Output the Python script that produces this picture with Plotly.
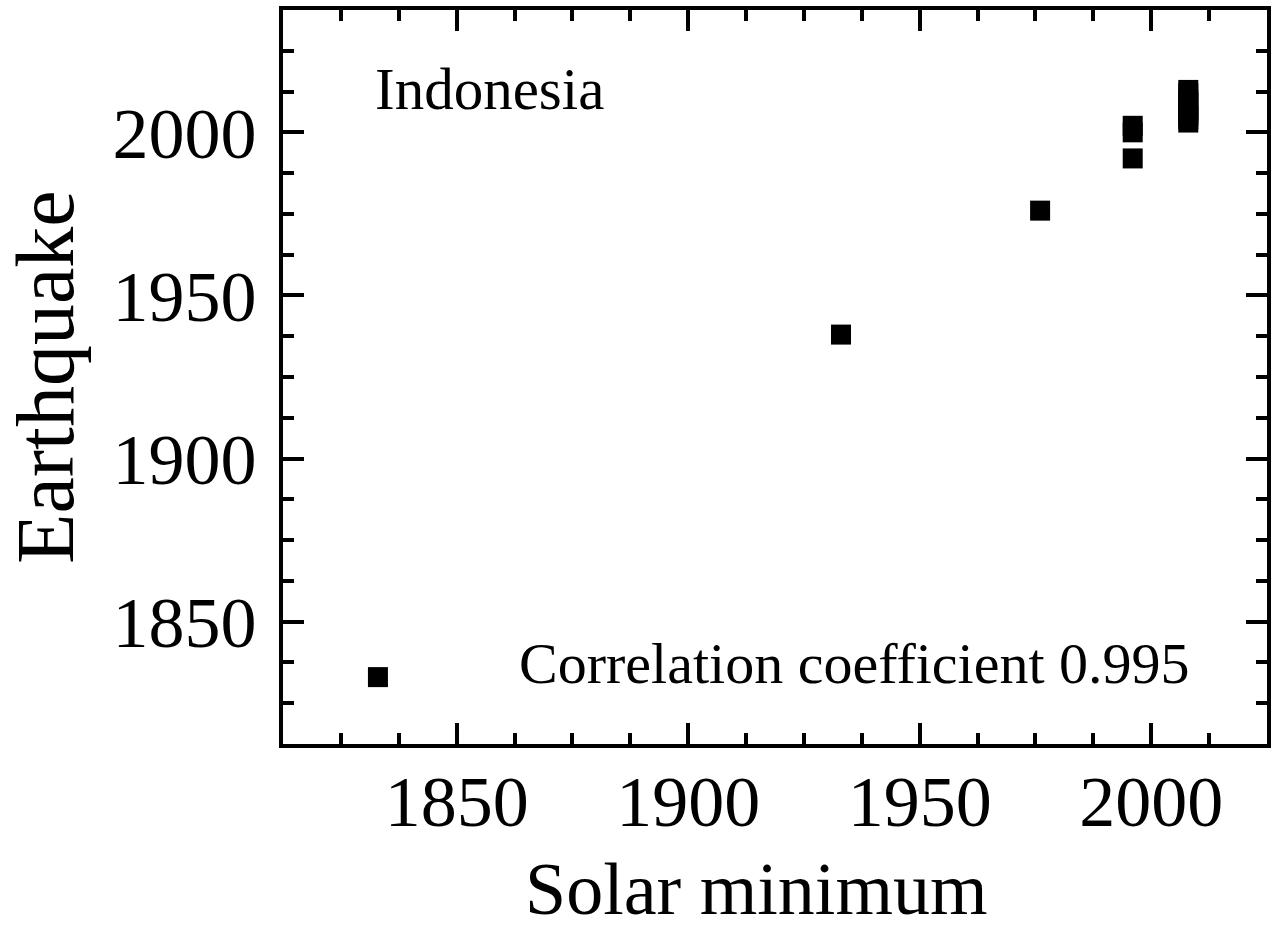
import plotly.graph_objects as go

# Data: solar minimum year vs earthquake year (Indonesia)
solar_min = [1833, 1933, 1976, 1996, 1996, 1996,
             2008, 2008, 2008, 2008, 2008, 2008, 2008, 2008, 2008]
earthquake = [1833, 1938, 1976, 1992, 2000, 2002,
              2003, 2004, 2005, 2006, 2007, 2009, 2010, 2012, 2013]

x_ticks = [1850, 1900, 1950, 2000]
y_ticks = [1850, 1900, 1950, 2000]

FONT = "Liberation Serif"

fig = go.Figure()
fig.add_trace(go.Scatter(
    x=solar_min, y=earthquake, mode="markers",
    marker=dict(symbol="square", size=20, color="black", line=dict(width=0)),
    showlegend=False,
))

axis_common = dict(
    showline=True, linecolor="black", linewidth=4, mirror="allticks",
    ticks="inside", ticklen=21, tickwidth=4, tickcolor="black",
    showgrid=False, zeroline=False, automargin=False,
    tickfont=dict(family=FONT, size=72, color="black"),
    minor=dict(ticks="inside", ticklen=11, tickwidth=4, dtick=12.5, tickcolor="black", showgrid=False),
)

fig.update_xaxes(range=[1812.5, 2025], tickvals=x_ticks, ticklabelstandoff=-8,
                 **axis_common)
fig.update_yaxes(range=[1812.5, 2037.5], tickvals=y_ticks, ticklabelstandoff=8,
                 title=dict(text="Earthquake", font=dict(family=FONT, size=82, color="black"), standoff=13),
                 **axis_common)

# x-axis title (placed slightly left of centre, as in the original)
fig.add_annotation(text="Solar minimum", xref="paper", yref="paper", x=0.4817, y=-0.198,
                   xanchor="center", yanchor="middle", showarrow=False,
                   font=dict(family=FONT, size=74, color="black"))

fig.add_annotation(text="Indonesia", xref="paper", yref="paper", x=0.0915, y=0.892,
                   xanchor="left", yanchor="middle", showarrow=False,
                   font=dict(family=FONT, size=59, color="black"))
fig.add_annotation(text="Correlation coefficient 0.995", xref="paper", yref="paper", x=0.9235, y=0.1090,
                   xanchor="right", yanchor="middle", showarrow=False,
                   font=dict(family=FONT, size=58, color="black"))

fig.update_layout(
    width=1278, height=934,
    margin=dict(l=283, r=11, t=10, b=190),
    plot_bgcolor="white", paper_bgcolor="white",
)

fig.write_html("out.html")
